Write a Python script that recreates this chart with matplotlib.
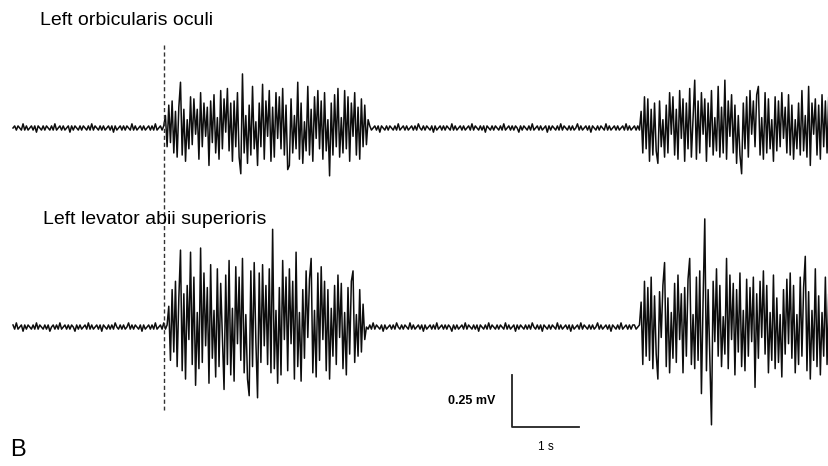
import numpy as np
import matplotlib.pyplot as plt

# EMG traces, sampled every 25 ms, values in 0.01 mV
dt = 0.025

oo_rest1 = [0, 1, -1, 1, 0, -1, 2, -1, 1, -1, 0, 1, -1, 1, -2, 1, 0, -1, 1, -1,
            1, 0, -1, 1, -1, 2, -1, 0, 1, -1, 1, -1, 0, 1, -2, 1, -1, 1, 0, -1,
            1, -1, 1, 0, -1, 1, -1, 2, -1, 1, 0, -1, 1, -1, 1, -1, 0, 1, -1, 1,
            -2, 1, -1, 0, 1, -1, 1, -1, 1, 0, -1, 2, -1, 1, -1, 0, 1, -1, 1, -1,
            0, 1, -1, 1, -1, 2, -1, 0, 1, -1, 1]
oo_burst1 = [6, -9, 11, -7, 13, -12, 8, -14, 10, 22,
             -13, 9, -16, 4, -10, 15, -8, 14, -3, 9,
             -15, 17, -9, 12, -4, 10, -18, 13, -7, 16,
             -12, 5, -15, 18, -10, 14, -2, 19, -11, 12,
             -16, 13, -9, 17, -14, -22, 26, -12, 6, -17,
             11, -13, 20, -10, 3, -18, 12, -9, 21, -15,
             13, -4, 18, -16, 10, -14, 17, -5, 15, -10,
             19, -13, 11, -20, -18, 14, -12, 6, -10, 22,
             -15, 12, -17, 3, -11, 20, -13, 9, -16, 15,
             -5, 18, -10, 13, -15, 17, -11, 4, -23, 12,
             -13, 16, -9, 19, -14, 5, -12, 18, -10, 15,
             -16, 12, -4, 17, -13, 10, -15, 14, -9, 11,
             -8, 4]
oo_rest2 = [1, -1, 0, 1, -1, 1, -2, 1, 0, -1, 1, -1, 1, 0, -1, 1, -1, 2, -1, 0,
            1, -1, 1, -1, 0, 1, -1, 1, -1, 2, 0, -1, 1, -1, 1, 0, -1, 1, -2, 1,
            -1, 0, 1, -1, 1, -1, 1, 0, -1, 2, -1, 1, -1, 0, 1, -1, 1, -1, 0, 1,
            -1, 2, -1, 1, 0, -1, 1, -1, 1, -2, 1, 0, -1, 1, -1, 1, 0, -1, 1, -1,
            2, -1, 0, 1, -1, 1, -1, 1, 0, -2, 1, -1, 1, 0, -1, 1, -1, 2, -1, 0,
            1, -1, 1, -1, 0, 1, -2, 1, -1, 1, 0, -1, 1, -1, 2, -1, 1, 0, -1, 1,
            -1, 1, -1, 0, 2, -1, 1, -1, 0, 1, -1, 1, -2, 1, 0, -1, 1, -1, 1, 0,
            -1, 2, -1, 1, -1, 0, 1, -1, 1, -1, 0, 1, -1, 2, -1, 1, -1, 0, 1, -1,
            1, -1]
oo_burst2 = [8, -12, 15, -10, 14, -16, 9, -13, 12, -11,
             -17, 13, -9, 4, -14, 11, -12, 17, -3, 15,
             -13, 9, -15, 18, -5, 14, -16, 12, -10, 19,
             -14, 4, 23, -15, 13, -12, 17, -3, 14, -16,
             12, -9, 18, -13, 5, -11, 20, -14, 10, -12,
             23, -15, 13, -4, 16, -12, 11, -17, 6, -13,
             -22, 12, -10, 15, -14, 18, -3, 13, -9, 16,
             20, -13, 5, -15, 17, -12, 14, -10, 4, -16,
             15, -11, 13, -9, 17, -5, 10, -12, 16, -13,
             11, -15, 4, -10, 12, -13, 18, -11, 6, -14,
             20, -18, 12, -3, 14, -13, 11, -15, 16, -9,
             13, -12, 15, -11]

lv_rest1 = [1, -1, 2, -1, 0, 1, -2, 1, -1, 1, 0, -1, 1, -1, 2, -1, 1, 0, -1, 1,
            -1, 1, -2, 0, 1, -1, 1, -1, 2, -1, 0, 1, -1, 1, -1, 1, 0, -2, 1, -1,
            1, -1, 0, 1, -1, 2, -1, 1, -1, 0, 1, -1, 1, -2, 1, 0, -1, 1, -1, 1,
            -1, 2, 0, -1, 1, -1, 1, -1, 0, 2, -1, 1, -1, 1, 0, -1, 1, -2, 1, -1,
            0, 1, -1, 1, -1, 2, -1, 0, 1, -1, 2, -1, 1]
lv_burst1 = [10, -16, 18, -12, 22, -19, 14, 37, -21, 16,
             -25, 20, -6, 36, -18, 24, -28, 7, -20, 38,
             -17, 26, -9, 19, -27, 30, -15, 8, -24, 28,
             -19, 21, -5, -30, 25, -18, 32, -23, 9, -26,
             29, -8, 24, -16, 33, -22, 6, -25, -33, 27,
             -19, 31, -7, -34, 26, -17, 30, -9, 20, -18,
             28, -22, 47, -20, 8, -27, 19, -23, 32, -6,
             24, -21, 28, -8, 22, -25, 36, -19, 7, -26,
             18, -15, 27, -5, 23, 33, -22, 8, -24, 26,
             -16, 29, -6, 22, -21, 18, -25, 9, -14, 20,
             -18, 25, -5, 21, -20, 7, -23, 19, -13, 22,
             27, -17, 6, -14, 18, -12, 11, -6]
lv_rest2 = [0, -1, 1, -1, 2, -1, 1, 0, -1, 1, -2, 1, -1, 0, 1, -1, 1, -1, 2, 0,
            -1, 1, -1, 1, 0, -1, 2, -1, 1, -1, 0, 1, -1, 1, -2, 1, -1, 0, 1, -1,
            1, -1, 2, -1, 0, 1, -1, 1, -1, 1, 0, -2, 1, -1, 1, -1, 0, 1, -1, 2,
            -1, 1, 0, -1, 1, -1, 1, -2, 1, 0, -1, 1, -1, 2, -1, 1, 0, -1, 1, -1,
            1, 0, -1, 2, -1, 1, -1, 0, 1, -2, 1, -1, 1, 0, -1, 1, -1, 1, -1, 2,
            0, -1, 1, -1, 1, -2, 1, 0, -1, 1, -1, 1, 0, -1, 2, -1, 1, -1, 0, 1,
            -1, 1, -2, 1, -1, 0, 1, -1, 2, -1, 1, 0, -1, 1, -1, 1, -1, 0, 2, -1,
            1, -1, 0, 1, -1, 1, -2, 1, 0, -1, 1, -1, 2, -1, 0, 1, -1, 1, -1, 1,
            1, -1, 0, 1]
lv_burst2 = [12, -18, 22, -14, 19, -16, 24, -20, 15, -13,
             -25, 17, -5, 20, 31, -19, 14, -22, 7, -15,
             21, -17, 25, -6, 16, -22, 19, -14, 23, 33,
             -18, 6, -20, 24, -16, 27, -32, 13, 52, -21,
             18, -15, -47, 22, -7, 28, -14, 20, -19, 5,
             -13, 33, -20, 25, -6, 21, -23, 18, -12, 26,
             -19, 8, -21, 23, -14, 19, -7, 24, -29, 16,
             -15, 22, -5, 27, -13, 20, -22, 7, -16, 25,
             -20, 14, -17, 6, -24, 18, -13, 23, -8, 26,
             -15, 20, -22, 6, -18, 24, -14, 19, 34, -21,
             17, -25, 8, -16, 28, -19, 15, -23, 7, -14,
             24, -18, 16, -20]

labels = ["Left orbicularis oculi", "Left levator abii superioris"]
offsets = [0.0, -0.957]  # mV

oo = np.array(oo_rest1 + oo_burst1 + oo_rest2 + oo_burst2) / 100.0
lv = np.array(lv_rest1 + lv_burst1 + lv_rest2 + lv_burst2) / 100.0
onset = len(oo_rest1) * dt

fig = plt.figure(figsize=(8.29, 4.66), dpi=100)
ax = fig.add_axes([0, 0, 1, 1])
ax.set_xlim(-13 / 67, 816 / 67)
ax.set_ylim(-338 / 208, 128 / 208)
ax.axis('off')

for sig, off in zip([oo, lv], offsets):
    t = np.arange(len(sig)) * dt
    ax.plot(t, sig + off, color='#0d0d0d', lw=1.1)

ax.text(27 / 67, 0.519, labels[0], fontsize=14, family='Liberation Sans',
        va='center', ha='left')
ax.text(30 / 67, -0.438, labels[1], fontsize=14, family='Liberation Sans',
        va='center', ha='left')

# stimulus onset
ax.plot([onset - 0.02, onset - 0.02], [0.40, -1.356], color='#333333',
        lw=1.0, ls=(0, (3, 2)))

# scale bar
x0 = 499 / 67
ax.plot([x0, x0, x0 + 1], [-1.1875, -1.4375, -1.4375], color='#222222', lw=1.3)
ax.text(x0 - 0.25, -1.3125, "0.25 mV", fontsize=9, fontweight='bold',
        family='Liberation Sans', ha='right', va='center')
ax.text(x0 + 0.5, -1.534, "1 s", fontsize=8.5, family='Liberation Sans',
        ha='center', va='center')

ax.text(-3 / 67, -1.548, "B", fontsize=17, family='Liberation Sans',
        ha='left', va='center')

fig.savefig('out.png', dpi=100)
